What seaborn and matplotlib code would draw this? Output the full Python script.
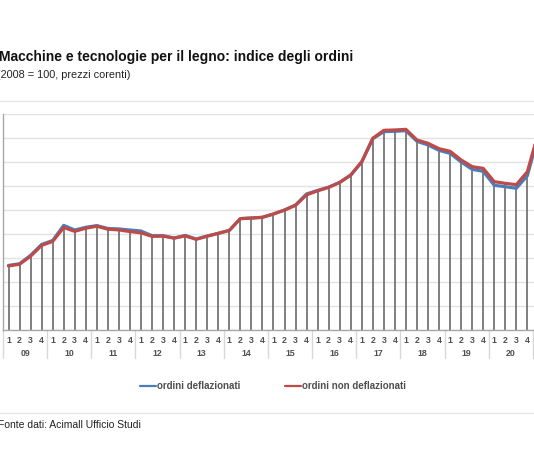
import numpy as np
import pandas as pd
import matplotlib
matplotlib.use("Agg")
import matplotlib.pyplot as plt
import matplotlib.transforms as mtransforms
from matplotlib.lines import Line2D
import seaborn as sns

# Data (2008 = 100)
years = ["09", "10", "11", "12", "13", "14", "15", "16", "17", "18", "19", "20", "21"]
quarters = ["1", "2", "3", "4"]
ordini_deflazionati = [
    53.8, 55.2, 62.2, 71.3, 74.6, 87.2, 83.3, 85.6, 87.0, 84.6, 84.2, 83.3,
    82.5, 78.6, 78.6, 76.6, 78.8, 75.8, 78.3, 80.6, 83.0, 92.8, 93.3, 93.9,
    96.7, 100.0, 104.2, 113.4, 116.3, 119.0, 123.0, 129.0, 140.0, 159.4, 165.3, 165.6,
    166.1, 157.2, 154.2, 149.7, 147.2, 140.0, 133.9, 132.2, 120.6, 119.4, 118.1, 128.6,
    162.5,
]
ordini_non_deflazionati = [
    53.4, 54.8, 61.5, 70.5, 73.8, 85.4, 82.2, 84.8, 86.5, 84.0, 83.4, 82.0,
    81.0, 78.0, 78.2, 76.6, 78.4, 75.6, 78.2, 80.5, 83.0, 92.8, 93.3, 93.9,
    96.7, 99.9, 103.9, 112.6, 116.0, 118.9, 123.0, 129.2, 140.3, 159.8, 166.4, 166.7,
    167.2, 158.3, 155.6, 151.1, 148.9, 141.7, 136.1, 134.7, 123.6, 122.2, 121.1, 131.9,
    164.7,
]

n = len(ordini_deflazionati)
df = pd.DataFrame({
    "t": np.arange(n),
    "anno": [years[i // 4] for i in range(n)],
    "trimestre": [quarters[i % 4] for i in range(n)],
    "deflazionati": ordini_deflazionati,
    "non_deflazionati": ordini_non_deflazionati,
})
shown = df[df["t"] < 48]

sns.set_style("white")
plt.rcParams["font.family"] = ["Liberation Sans", "DejaVu Sans"]

W, H = 534, 462
fig = plt.figure(figsize=(W / 100, H / 100), dpi=100)


def fx(px):
    return px / W


def fy(py):
    return 1 - py / H


ax = fig.add_axes([fx(3), fy(330), fx(531), 216 / H])

blue = "#4a7ebb"
red = "#be4b48"

# drop lines from the series to the axis
top = df[["deflazionati", "non_deflazionati"]].max(axis=1)
ax.vlines(df["t"], 0, top, color="#6a6a6a", lw=1.2, zorder=2)

sns.lineplot(data=df, x="t", y="deflazionati", color=blue, lw=2.3, ax=ax, zorder=3)
sns.lineplot(data=df, x="t", y="non_deflazionati", color=red, lw=2.3, ax=ax, zorder=4)

ax.set_xlim(-0.5, 47.6)
ax.set_ylim(0, 180)
ax.set_yticks(np.arange(0, 181, 20))
ax.yaxis.grid(True, color="#e2e2e2", lw=1)
ax.set_axisbelow(True)
ax.tick_params(axis="y", left=False, labelleft=False)
ax.set_xlabel("")
ax.set_ylabel("")
for s in ["top", "right"]:
    ax.spines[s].set_visible(False)
for s in ["left", "bottom"]:
    ax.spines[s].set_color("#a8a8a8")
    ax.spines[s].set_linewidth(1)

# category axis: quarters and years
ax.set_xticks(shown["t"])
ax.set_xticklabels(shown["trimestre"], fontsize=6.3, color="#505050", fontweight="bold")
ax.tick_params(axis="x", bottom=False, pad=1)

trans = mtransforms.blended_transform_factory(ax.transData, ax.transAxes)
n_years = (n + 3) // 4
for k in range(n_years):
    ax.plot([4 * k - 0.5, 4 * k - 0.5], [0, -28 / 216], transform=trans,
            color="#d8d8d8", lw=1, clip_on=False)
    if 4 * k + 1.5 < 47.6:
        ax.text(4 * k + 1.5, -23 / 216, years[k], transform=trans, ha="center",
                va="center", fontsize=6.3, color="#505050", fontweight="bold",
                clip_on=False)

# separators
fig.add_artist(Line2D([0, 1], [fy(101), fy(101)], color="#e6e6e6", lw=1))
fig.add_artist(Line2D([0, 1], [fy(413), fy(413)], color="#e6e6e6", lw=1))

# titles
fig.text(fx(-1), fy(57), "Macchine e tecnologie per il legno: indice degli ordini",
         fontsize=10, fontweight="bold", color="#111111", va="center", ha="left")
fig.text(fx(-3), fy(75), "(2008 = 100, prezzi corenti)",
         fontsize=7.8, color="#222222", va="center", ha="left")
fig.text(fx(-2), fy(425), "Fonte dati: Acimall Ufficio Studi",
         fontsize=7.5, color="#222222", va="center", ha="left")

# legend
handles = [Line2D([], [], color=blue, lw=1.6), Line2D([], [], color=red, lw=1.6)]
fig.legend(handles, ["ordini deflazionati", "ordini non deflazionati"],
           loc="center", bbox_to_anchor=(fx(273), fy(386)), ncol=2, frameon=False,
           handlelength=1.6, handletextpad=0.1, columnspacing=4.6,
           labelcolor="#505050", prop={"weight": "bold", "size": 7})

fig.savefig("out.png", dpi=100)
